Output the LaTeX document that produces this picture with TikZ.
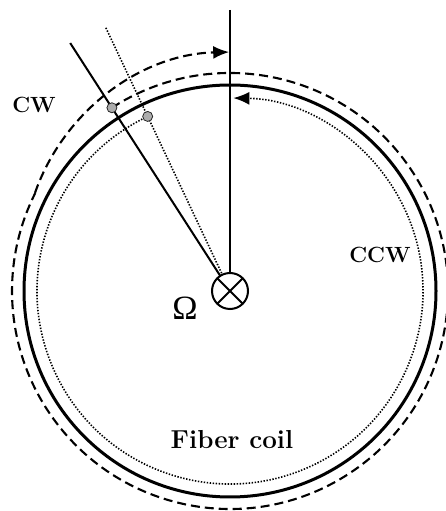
\documentclass[tikz,border=0pt]{standalone}
\usepackage{fontspec}
\newfontfamily\omfont{Liberation Serif}
\usetikzlibrary{arrows.meta,calc}
\begin{document}
\begin{tikzpicture}[x=1pt,y=1pt,
  solidline/.style={line width=2pt},
  dashline/.style={line width=2.1pt,dash pattern=on 9pt off 5pt},
  dotline/.style={line width=1.6pt,dash pattern=on 1.4pt off 1.6pt},
  tipstyle/.style={-{Latex[length=16pt,width=13pt]}},
  dotnode/.style={circle,fill=gray!65,draw=gray!30!black,line width=0.8pt,minimum size=10pt,inner sep=0pt},
  lbl/.style={font=\fontsize{22}{26}\selectfont\bfseries,inner sep=0pt}]
\useasboundingbox (0,0) rectangle (445,511);
\coordinate (O) at (230,220);
\coordinate (O2) at (234,248);
% fiber coil (solid)
\draw[line width=3pt] (O) circle[radius=206];
% dashed CW path
\draw[dashline] ($(O)+(122.8:218)$) arc[start angle=122.8, end angle=-206.7, radius=218];
\draw[dashline,tipstyle] ($(O2)+(160.6:211)$) arc[start angle=160.6, end angle=91.3, radius=211];
% dotted CCW path
\draw[dotline,tipstyle] ($(O)+(115.25:193)$) arc[start angle=115.25, end angle=449, radius=193];
% rotation symbol
\node[circle,draw,line width=2pt,minimum size=36pt,inner sep=0pt,outer sep=0pt] (ot) at (O) {};
\draw[line width=2pt] (ot.north west) -- (ot.south east) (ot.north east) -- (ot.south west);
% radial lines
\coordinate (vtop) at (230,501);
\coordinate (s1) at ($(O)+(122.8:295)$);
\coordinate (d1) at ($(O)+(115.25:291)$);
\draw[solidline] (vtop) -- (ot);
\draw[solidline] (s1) -- (ot);
\draw[dotline] (d1) -- (ot);
% markers
\node[dotnode] (p1) at ($(O)+(122.8:218)$) {};
\node[dotnode] (p2) at ($(O)+(115.25:193)$) {};
% labels
\node[lbl] (cw) at (34,406) {CW};
\node[lbl] (ccw) at (380,256) {CCW};
\node[font=\fontsize{26}{30}\selectfont\bfseries,inner sep=0pt] (fc) at (232,71) {Fiber coil};
\node[font=\omfont\fontsize{34}{38}\selectfont,inner sep=0pt,anchor=base] (om) at (185,191) {Ω};
\end{tikzpicture}
\end{document}
